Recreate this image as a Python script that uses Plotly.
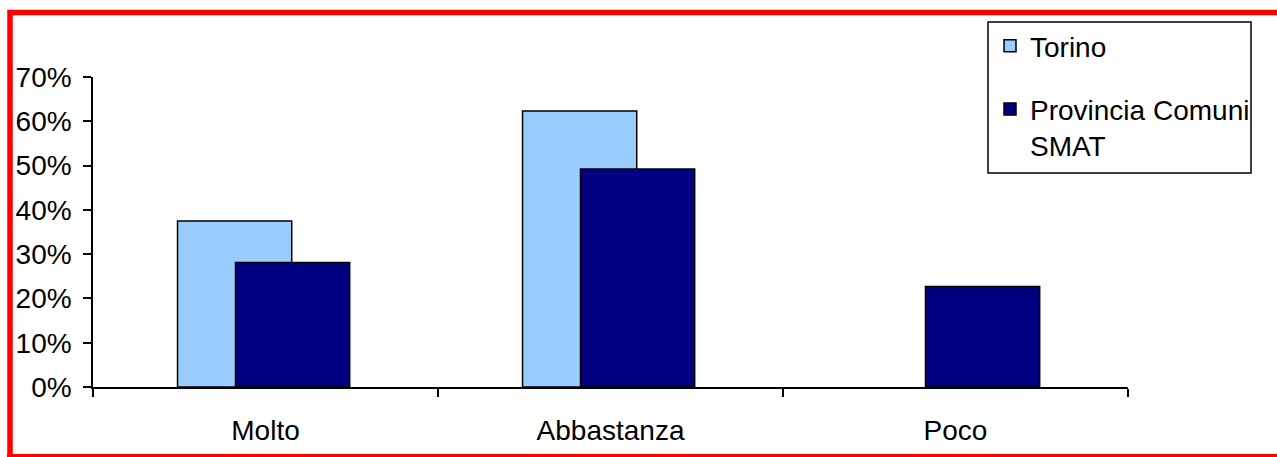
import plotly.graph_objects as go

categories = ["Molto", "Abbastanza", "Poco"]
torino = [0.375, 0.623, None]
provincia = [0.281, 0.492, 0.227]
series_names = ["Torino", "Provincia Comuni<br>SMAT"]
y_ticks = [0, 0.1, 0.2, 0.3, 0.4, 0.5, 0.6, 0.7]
y_labels = ["0%", "10%", "20%", "30%", "40%", "50%", "60%", "70%"]

W, H = 1277, 457
PW, PH = 1035, 310
L, T = 93, 77
R, B = W - L - PW, H - T - PH

def px(x):
    return (x - L) / PW

def py(y):
    return (T + PH - y) / PH

FONT = "Liberation Sans, Arial, sans-serif"
FS = 28

fig = go.Figure()
fig.add_trace(go.Bar(
    x=categories, y=torino, name=series_names[0],
    marker=dict(color="#99CCFF", line=dict(color="black", width=1.5)),
    width=0.331, offset=-0.255, legendgroup="a",
))
fig.add_trace(go.Bar(
    x=categories, y=provincia, name=series_names[1],
    marker=dict(color="#000080", line=dict(color="black", width=1.5)),
    width=0.331, offset=-0.087, legendgroup="b",
))

top_path = "M {} {} L {} {} L {} {}".format(
    px(10), py(460), px(10), py(12.5), px(1277), py(12.5))
bottom_path = "M {} {} L {} {}".format(
    px(7), py(455.5), px(1277), py(455.5))

fig.update_layout(
    width=W, height=H,
    margin=dict(l=L, r=R, t=T, b=B, autoexpand=False),
    paper_bgcolor="white", plot_bgcolor="white",
    barmode="overlay",
    font=dict(family=FONT, size=FS, color="black"),
    showlegend=True,
    legend=dict(
        x=px(990), y=py(21), xanchor="left", yanchor="top",
        borderwidth=0, bgcolor="rgba(0,0,0,0)",
        font=dict(size=FS), traceorder="grouped", tracegroupgap=24,
        valign="top",
    ),
    xaxis=dict(
        type="category", range=[-0.5, 2.5], tickson="boundaries",
        ticks="outside", ticklen=8, tickwidth=1.5, tickcolor="black",
        showline=True, linecolor="black", linewidth=1.5,
        showgrid=False, zeroline=False, ticklabelstandoff=18,
        tickfont=dict(size=FS),
    ),
    yaxis=dict(
        range=[0, 0.7], tickvals=y_ticks, ticktext=y_labels,
        ticks="outside", ticklen=8, tickwidth=1.5, tickcolor="black",
        showline=True, linecolor="black", linewidth=1.5,
        showgrid=False, zeroline=False, ticklabelstandoff=6,
        tickfont=dict(size=FS),
    ),
    shapes=[
        dict(type="rect", xref="paper", yref="paper",
             x0=px(988), x1=px(1251), y0=py(22), y1=py(173),
             line=dict(color="black", width=1.5), fillcolor="white",
             layer="below"),
        dict(type="path", xref="paper", yref="paper", path=top_path,
             line=dict(color="red", width=5.5)),
        dict(type="path", xref="paper", yref="paper", path=bottom_path,
             line=dict(color="red", width=3)),
    ],
)

fig.write_html(
    "out.html",
    config={"displayModeBar": False},
    post_script="document.body.style.margin='0';document.body.style.overflow='hidden';",
)
